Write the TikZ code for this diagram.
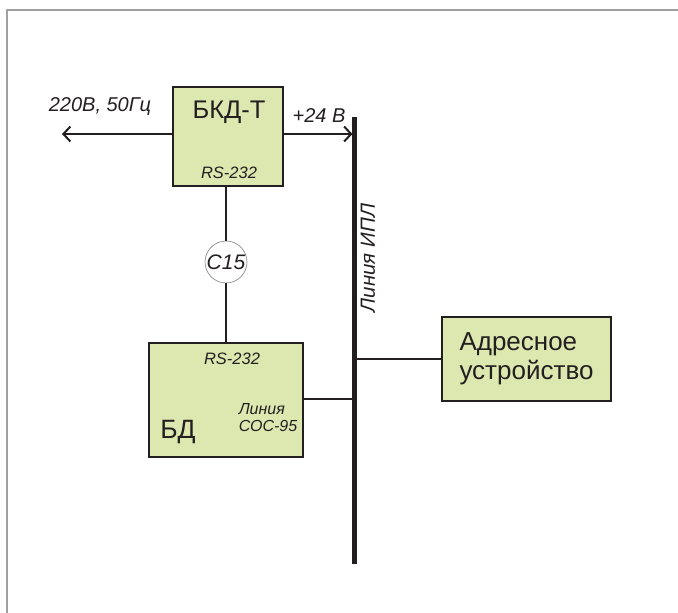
\documentclass[tikz,border=0pt]{standalone}
\usepackage{fontspec}
\setmainfont{Liberation Sans}
\usetikzlibrary{arrows.meta, positioning, calc}
\definecolor{c1}{HTML}{231F20}
\definecolor{boxfill}{HTML}{DDE8B0}
\definecolor{framecol}{HTML}{A0A0A0}
\definecolor{ringcol}{HTML}{808080}

\begin{document}
\begin{tikzpicture}[
    x=1pt, y=-1pt,
    every node/.style={inner sep=0pt, text=c1},
    lab/.style={font=\itshape\fontsize{20}{22}\selectfont},
    sml/.style={font=\itshape\fontsize{16.5}{18}\selectfont},
    big/.style={font=\fontsize{25.5}{29}\selectfont},
    blk/.style={rectangle, draw=c1, fill=boxfill, line width=2pt},
    ring/.style={circle, draw=ringcol, fill=white, line width=0.6pt,
                 minimum size=42pt, font=\itshape\fontsize{21}{22}\selectfont},
    wire/.style={line width=2pt, color=c1},
    arr/.style={-{Straight Barb[length=7pt, width=15pt, line width=2pt]},
                line width=2pt, color=c1},
    bus/.style={line width=4.5pt, color=c1},
]
\useasboundingbox (0,0) rectangle (678,613);
\draw[framecol, line width=1.5pt] (7,613) -- (7,10) -- (678,10);

% ================================================================ blocks
\node[blk, minimum width=110pt, minimum height=99pt] (bkd) at (227.5,136.5) {};
\node[big] (bkdname) at (229,112) {БКД-Т};
\node[sml] (bkdrs) at (229,173) {RS-232};

\node[blk, minimum width=154pt, minimum height=114pt] (bd) at (226,400) {};
\node[font=\fontsize{26.5}{29}\selectfont] (bdname) at (178,432) {БД};
\node[sml] (bdrs) at (232,359) {RS-232};
\node[font=\itshape\fontsize{16}{17}\selectfont, align=left] (bdsos) at (268,418)
    {Линия\\СОС-95};

\node[blk, minimum width=169pt, minimum height=84pt, align=left,
      font=\fontsize{26}{29}\selectfont] (addr) at (526.5,359)
    {Адресное\\устройство};

\node[ring] (c15) at (226,262) {C15};

% ================================================================ bus
\coordinate (busTop) at (354.5,117);
\coordinate (busBot) at (354.5,564);
\draw[bus] (busTop) -- (busBot);
\node[font=\itshape\fontsize{20.5}{22}\selectfont, rotate=90] (ipl) at (368,258) {Линия ИПЛ};

% ================================================================ links
\coordinate (mains) at (62,134);
\draw[arr] (bkd.west |- mains) -- (mains);
\node[lab] (mainslab) at (100,107) {220В, 50Гц};
\draw[arr] (bkd.east |- mains) -- ($(busTop |- mains)+(-2,0)$);
\node[lab] (pluslab) at (319,116) {+24 В};

\draw[wire] (bkd.south -| c15) -- (c15.north);
\draw[wire] (c15.south) -- (bd.north -| c15);
\draw[wire] (bd.east |- 0,399) -- (busTop |- 0,399);
\draw[wire] (busTop |- addr.west) -- (addr.west);
\end{tikzpicture}
\end{document}
